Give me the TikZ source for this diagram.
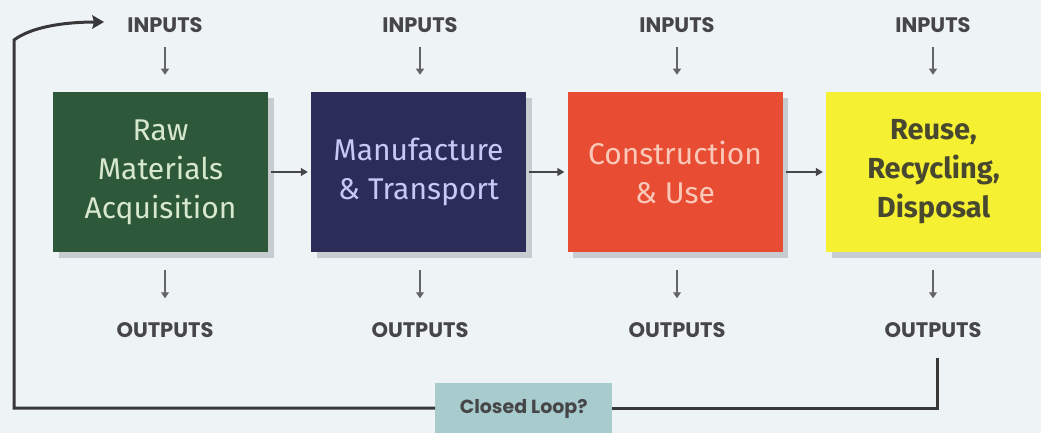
\documentclass[tikz,border=0pt]{standalone}
\usepackage{fontspec}
\setmainfont{Poppins}
\newfontfamily\boxfont{Fira Sans}
\usetikzlibrary{arrows.meta,calc}
\definecolor{bg}{RGB}{238,244,246}
\definecolor{labelgray}{RGB}{70,70,72}
\definecolor{tickgray}{RGB}{100,100,104}
\definecolor{rawgreen}{RGB}{46,88,58}
\definecolor{mfgnavy}{RGB}{43,44,88}
\definecolor{useorange}{RGB}{232,76,50}
\definecolor{reyellow}{RGB}{245,240,50}
\definecolor{loopteal}{RGB}{168,204,206}
\definecolor{shadowgray}{RGB}{198,204,208}
\tikzset{
  stage/.style={minimum width=215pt,minimum height=160pt,inner sep=0pt,align=center,
    font=\boxfont\fontsize{30}{39}\selectfont},
  flowlabel/.style={font=\bfseries\fontsize{21}{24}\selectfont,text=labelgray,inner sep=0pt},
  tick/.style={draw=tickgray,line width=1.1pt,-{Triangle[width=8pt,length=6pt]}},
  link/.style={draw=labelgray,line width=1.4pt,-{Triangle[width=8pt,length=7pt]}},
  loopline/.style={draw=black!78,line width=3pt}
}
\begin{document}
\begin{tikzpicture}[x=1pt,y=-1pt]
\fill[bg] (0,0) rectangle (1041,433);
\useasboundingbox (0,0) rectangle (1041,433);

% stage shadows
\foreach \x in {53,311,567,826}
  \fill[shadowgray] (\x+6,98) rectangle (\x+221,258);

% four life-cycle stages
\node[stage,fill=rawgreen,text={rgb,255:red,215;green,232;blue,205}] (b1) at (160.5,172) {Raw\\Materials\\Acquisition};
\node[stage,fill=mfgnavy,text={rgb,255:red,200;green,200;blue,245}] (b2) at (418.5,172) {Manufacture\\\& Transport};
\node[stage,fill=useorange,text={rgb,255:red,250;green,200;blue,185}] (b3) at (675,172) {Construction\\\& Use};
\node[stage,fill=reyellow,text={rgb,255:red,72;green,72;blue,48},font=\boxfont\bfseries\fontsize{29}{39}\selectfont] (b4) at (933.5,172) {Reuse,\\Recycling,\\Disposal};

% inputs and outputs
\foreach \i/\x in {1/165,2/420,3/677,4/933}{
  \node[flowlabel] (i\i) at (\x,25) {INPUTS};
  \node[flowlabel] (o\i) at (\x,330) {OUTPUTS};
  \draw[tick] (i\i.south) ++(0,14) -- ++(0,28);
  \draw[tick] (o\i.north) ++(0,-52) -- ++(0,28);
}

% stage-to-stage arrows
\draw[link] (b1.east)++(3,0) -- ($(b2.west)+(-3,0)$);
\draw[link] (b2.east)++(3,0) -- ($(b3.west)+(-3,0)$);
\draw[link] (b3.east)++(3,0) -- ($(b4.west)+(-3,0)$);

% closed loop
\node[fill=loopteal,minimum width=177pt,minimum height=52pt,inner sep=0pt,
  font=\bfseries\fontsize{19}{22}\selectfont,text=labelgray,anchor=north west] (cl) at (435,383) {\raisebox{4pt}{Closed Loop?}};
\coordinate (lr) at (937,408);
\coordinate (ll) at (14,408);
\draw[loopline] ($(o4.south)+(4,20)$) -- (lr) -- (cl.east |- lr);
\draw[loopline] (cl.west |- ll) -- (ll) -- (14,40)
  .. controls (30,28) and (60,22) .. (96,22);
\fill[black!78] (104,22) -- (92,15) -- (94,22) -- (92,29) -- cycle;
\end{tikzpicture}
\end{document}
